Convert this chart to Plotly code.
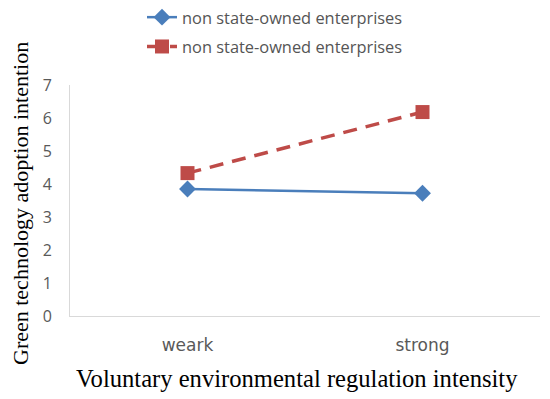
import plotly.graph_objects as go

categories = ["weark", "strong"]
series_names = ["non state-owned enterprises", "non state-owned enterprises"]
blue_values = [3.85, 3.72]
red_values = [4.33, 6.18]
y_ticks = [0, 1, 2, 3, 4, 5, 6, 7]
x_title = "Voluntary environmental regulation intensity"
y_title = "Green technology adoption intention"

fig = go.Figure()
fig.add_trace(go.Scatter(
    x=categories, y=blue_values, name=series_names[0], mode="lines+markers",
    line=dict(color="#4A7EBB", width=2.5),
    marker=dict(symbol="diamond", size=13, color="#4A7EBB"),
    legendgroup="a",
))
fig.add_trace(go.Scatter(
    x=categories, y=red_values, name=series_names[1], mode="lines+markers",
    line=dict(color="#BE4B48", width=3.5, dash="14px,9px"),
    marker=dict(symbol="square", size=14, color="#BE4B48"),
    legendgroup="b",
))

H = 399
W = 550
left_px = 70
top_px = 85
bottom_px = 83
paper_h = H - bottom_px          # paper area (top margin 0)
plot_h = paper_h - top_px
plot_w = W - left_px - 10

fig.update_layout(
    width=W, height=H,
    margin=dict(l=left_px, r=10, t=0, b=bottom_px),
    paper_bgcolor="white", plot_bgcolor="white",
    showlegend=True,
    legend=dict(
        x=(133 - left_px + 9) / plot_w, y=1.0, xanchor="left", yanchor="top",
        orientation="v", tracegroupgap=5,
        font=dict(family="Open Sans", size=16.4, color="#555555"),
        bgcolor="rgba(0,0,0,0)",
    ),
    xaxis=dict(
        type="category", range=[-0.5, 1.5], automargin=False,
        showgrid=False, showline=True, linecolor="#D9D9D9", linewidth=1,
        ticks="", ticklabelstandoff=14,
        tickfont=dict(family="DejaVu Sans", size=17, color="#595959"),
    ),
    yaxis=dict(
        domain=[0, plot_h / paper_h], automargin=False,
        range=[0, 7], tickvals=y_ticks, showgrid=False, zeroline=False,
        showline=True, linecolor="#D9D9D9", linewidth=1,
        ticks="", ticklabelstandoff=14,
        tickfont=dict(family="Open Sans", size=16, color="#595959"),
    ),
    annotations=[
        dict(text=x_title, xref="paper", yref="paper",
             x=(297 - left_px) / plot_w, y=1 - 378 / paper_h,
             xanchor="center", yanchor="middle", showarrow=False,
             font=dict(family="Liberation Serif", size=24.6, color="black")),
        dict(text=y_title, xref="paper", yref="paper", textangle=-90,
             x=(20 - left_px) / plot_w, y=1 - 204 / paper_h,
             xanchor="center", yanchor="middle", showarrow=False,
             font=dict(family="Liberation Serif", size=22, color="black")),
    ],
)

fig.write_html("out.html", config={"displayModeBar": False},
               post_script="document.body.style.margin='0px';")
